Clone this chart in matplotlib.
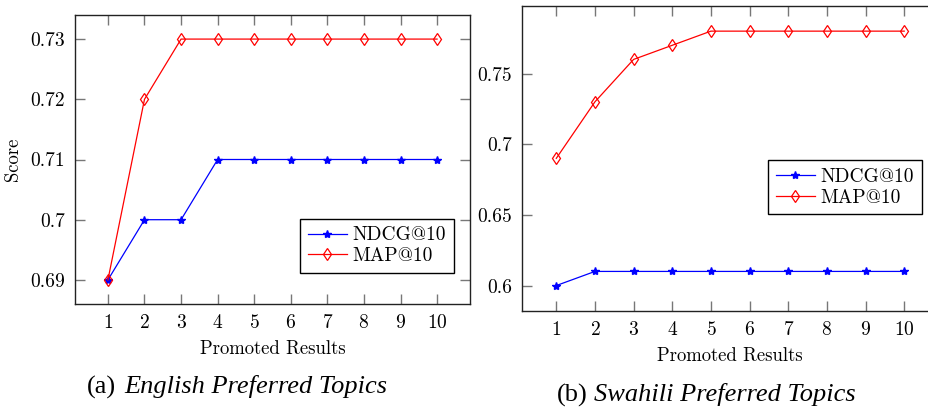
"""Promoted results vs. score, English and Swahili preferred topics."""

import matplotlib

matplotlib.use("Agg")

import matplotlib.pyplot as plt

promoted = [1, 2, 3, 4, 5, 6, 7, 8, 9, 10]

english_ndcg = [0.69, 0.70, 0.70, 0.71, 0.71, 0.71, 0.71, 0.71, 0.71, 0.71]
english_map = [0.69, 0.72, 0.73, 0.73, 0.73, 0.73, 0.73, 0.73, 0.73, 0.73]
english_yticks = [0.69, 0.70, 0.71, 0.72, 0.73]
english_ylabels = ["0.69", "0.7", "0.71", "0.72", "0.73"]

swahili_ndcg = [0.60, 0.61, 0.61, 0.61, 0.61, 0.61, 0.61, 0.61, 0.61, 0.61]
swahili_map = [0.69, 0.73, 0.76, 0.77, 0.78, 0.78, 0.78, 0.78, 0.78, 0.78]
swahili_yticks = [0.60, 0.65, 0.70, 0.75]
swahili_ylabels = ["0.6", "0.65", "0.7", "0.75"]

plt.rcParams["font.family"] = "serif"
plt.rcParams["font.serif"] = ["cmr10"]
plt.rcParams["axes.formatter.use_mathtext"] = True

W, H = 929, 412


def px_axes(fig, left, top, right, bottom):
    return fig.add_axes([left / W, 1 - bottom / H, (right - left) / W, (bottom - top) / H])


def style_axes(ax, yticks, ylabels, ylim):
    ax.set_xlim(0.1, 10.9)
    ax.set_ylim(*ylim)
    ax.set_xticks(promoted)
    ax.set_yticks(yticks)
    ax.set_yticklabels(ylabels)
    ax.tick_params(direction="in", length=7, width=1.0, color="#777777",
                   top=True, right=True, labelsize=14, pad=7)
    for spine in ax.spines.values():
        spine.set_linewidth(1.0)
        spine.set_color("#222222")
    ax.set_xlabel("Promoted Results", fontsize=13.5, labelpad=6)


def draw(ax, ndcg, mapk):
    ax.plot(promoted, ndcg, color="blue", marker="*", markersize=6, linewidth=0.9,
            label="NDCG@10")
    ax.plot(promoted, mapk, color="red", marker="d", markersize=6, linewidth=0.9,
            markerfacecolor="none", markeredgewidth=0.9, label="MAP@10")


def add_legend(ax, anchor, loc):
    ax.legend(loc=loc, bbox_to_anchor=anchor, fontsize=14, fancybox=False,
              edgecolor="black", framealpha=1, handlelength=2.0, borderpad=0.4,
              labelspacing=0.15, handletextpad=0.3, borderaxespad=0)


fig = plt.figure(figsize=(W / 100, H / 100), dpi=100)

ax1 = px_axes(fig, 75, 15, 470, 304)
draw(ax1, english_ndcg, english_map)
style_axes(ax1, english_yticks, english_ylabels, (0.686, 0.734))
ax1.set_ylabel("Score", fontsize=13.5, labelpad=6)
add_legend(ax1, (0.9595, 0.107), "lower right")

ax2 = px_axes(fig, 521.5, 5.7, 939, 311)
draw(ax2, swahili_ndcg, swahili_map)
style_axes(ax2, swahili_yticks, swahili_ylabels, (0.582, 0.798))
add_legend(ax2, (0.959, 0.4946), "upper right")

cap_font = "Liberation Serif"
fig.text(87 / W, 1 - 387 / H, "(a)", ha="left", va="center", fontsize=19,
         family=cap_font)
fig.text(124 / W, 1 - 387 / H, "English Preferred Topics", ha="left", va="center",
         fontsize=19, family=cap_font, style="italic")
fig.text(557 / W, 1 - 395 / H, "(b)", ha="left", va="center", fontsize=19,
         family=cap_font)
fig.text(594 / W, 1 - 395 / H, "Swahili Preferred Topics", ha="left", va="center",
         fontsize=19, family=cap_font, style="italic")

fig.savefig("out.png", dpi=100)
plt.close(fig)
